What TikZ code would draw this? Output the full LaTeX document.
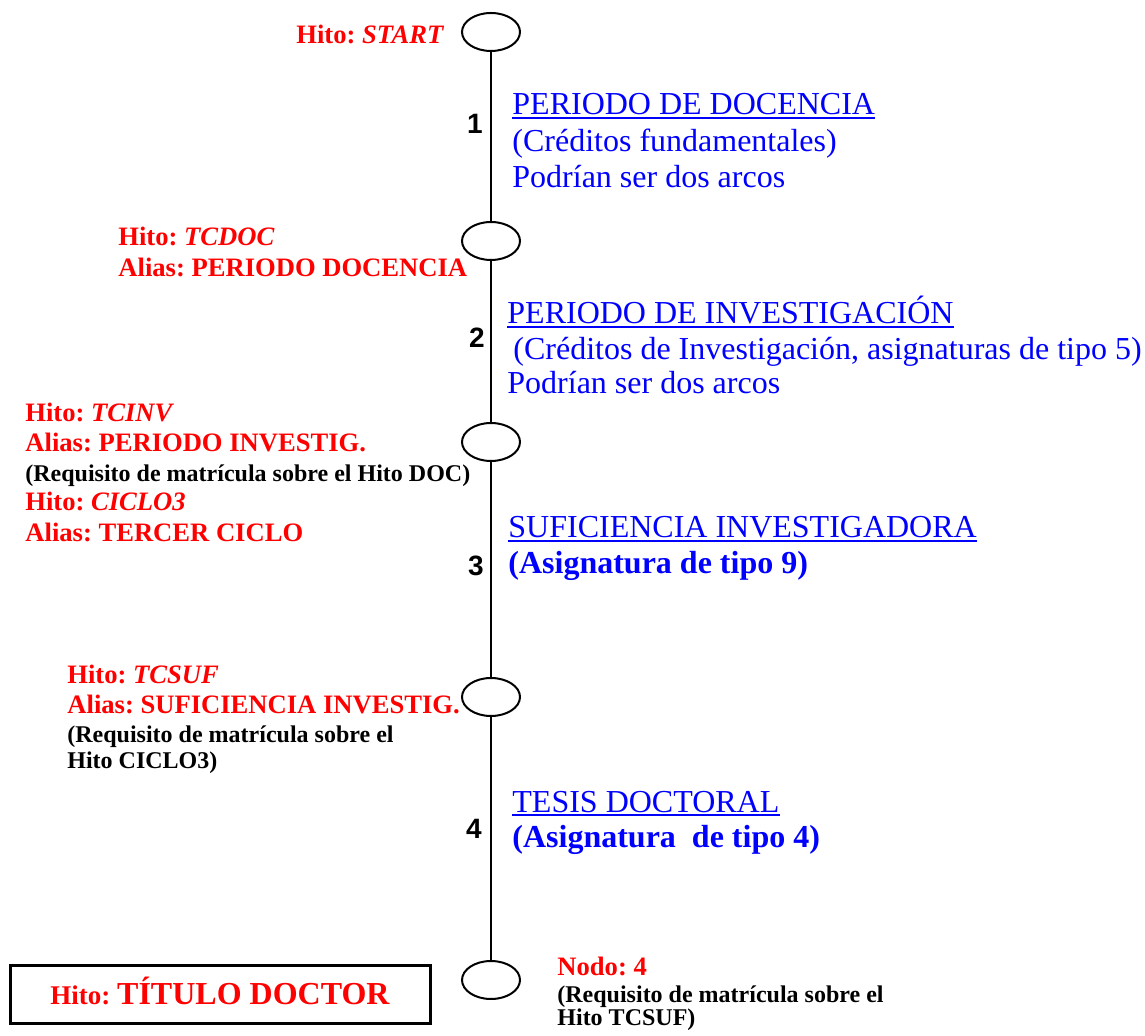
\documentclass[tikz,border=0pt]{standalone}
\usepackage{fontspec}
\setmainfont{Liberation Serif}
\newfontfamily\numfont{Liberation Sans}
\usetikzlibrary{shapes.geometric}
\frenchspacing
\tikzset{
  hito/.style={ellipse, draw, line width=1pt, minimum width=29pt, minimum height=19pt, inner sep=0pt},
  arco/.style={line width=1pt},
  lbl/.style={inner sep=0pt, anchor=base west},
  redt/.style={lbl, text=red, font=\fontsize{13.3}{15}\selectfont\bfseries},
  blkt/.style={lbl, text=black, font=\fontsize{12}{14}\selectfont\bfseries},
  bluet/.style={lbl, text=blue, font=\fontsize{16}{18}\selectfont},
  bluebt/.style={lbl, text=blue, font=\fontsize{16}{18}\selectfont\bfseries},
  num/.style={inner sep=0pt, font=\numfont\fontsize{14}{16}\selectfont\bfseries},
  uline/.style={blue, line width=0.75pt},
}
\begin{document}
\begin{tikzpicture}[x=0.5pt,y=-0.5pt]
\useasboundingbox (0,0) rectangle (1145,1036);

% milestones
\node[hito] (e1) at (491,32) {};
\node[hito] (e2) at (491,241) {};
\node[hito] (e3) at (491,442) {};
\node[hito] (e4) at (491,697) {};
\node[hito] (e5) at (491,980) {};

% arcs
\draw[arco] (e1) -- (e2);
\draw[arco] (e2) -- (e3);
\draw[arco] (e3) -- (e4);
\draw[arco] (e4) -- (e5);

% arc numbers
\node[num] (n1) at (475,124) {1};
\node[num] (n2) at (477,338) {2};
\node[num] (n3) at (476,566) {3};
\node[num] (n4) at (474,829) {4};

% milestone labels
\node[redt] (hstart) at (296,44) {Hito: \textit{START}};

\node[redt] (htcdoc) at (118,246) {Hito: \textit{TCDOC}};
\node[redt] (atcdoc) at (118,277) {Alias: PERIODO DOCENCIA};

\node[redt] (htcinv) at (25,422) {Hito: \textit{TCINV}};
\node[redt] (atcinv) at (25,452) {Alias: PERIODO INVESTIG.};
\node[blkt] (rtcinv) at (25,482) {(Requisito de matrícula sobre el Hito DOC)};
\node[redt] (hciclo) at (25,511) {Hito: \textit{CICLO3}};
\node[redt] (aciclo) at (25,542) {Alias: TERCER CICLO};

\node[redt] (htcsuf) at (67,683) {Hito: \textit{TCSUF}};
\node[redt] (atcsuf) at (67,713) {Alias: SUFICIENCIA INVESTIG.};
\node[blkt] (rtcsuf1) at (67,742) {(Requisito de matrícula sobre el};
\node[blkt] (rtcsuf2) at (67,768) {Hito CICLO3)};

\node[redt] (nodo) at (557,975) {Nodo: 4};
\node[blkt] (rnodo1) at (557,1002) {(Requisito de matrícula sobre el};
\node[blkt] (rnodo2) at (557,1025) {Hito TCSUF)};

% arc descriptions
\node[bluet] (t1a) at (512,115) {PERIODO DE DOCENCIA};
\node[bluet] (t1b) at (512,152) {(Créditos fundamentales)};
\node[bluet] (t1c) at (512,188) {Podrían ser dos arcos};

\node[bluet] (t2a) at (507,324) {PERIODO DE INVESTIGACIÓN};
\node[bluet] (t2b) at (513,360) {(Créditos de Investigación, asignaturas de tipo 5)};
\node[bluet] (t2c) at (507,394) {Podrían ser dos arcos};

\node[bluet] (t3a) at (508,538) {SUFICIENCIA INVESTIGADORA};
\node[bluebt] (t3b) at (508,574) {(Asignatura de tipo 9)};

\node[bluet] (t4a) at (512,812) {TESIS DOCTORAL};
\node[bluebt] (t4b) at (512,847) {(Asignatura\ \ de tipo 4)};

\foreach \n in {t1a,t2a,t3a,t4a}
  \draw[uline] ([yshift=-1.6pt]\n.base west) -- ([yshift=-1.6pt]\n.base east);

% final box
\node[draw, line width=1.5pt, minimum width=210pt, minimum height=29pt, inner sep=0pt,
      text=red, font=\bfseries, text height=10.8pt, text depth=0pt] (titulo) at (220,994)
  {\fontsize{13.5}{15}\selectfont Hito: \fontsize{16}{18}\selectfont TÍTULO DOCTOR};
\end{tikzpicture}
\end{document}
